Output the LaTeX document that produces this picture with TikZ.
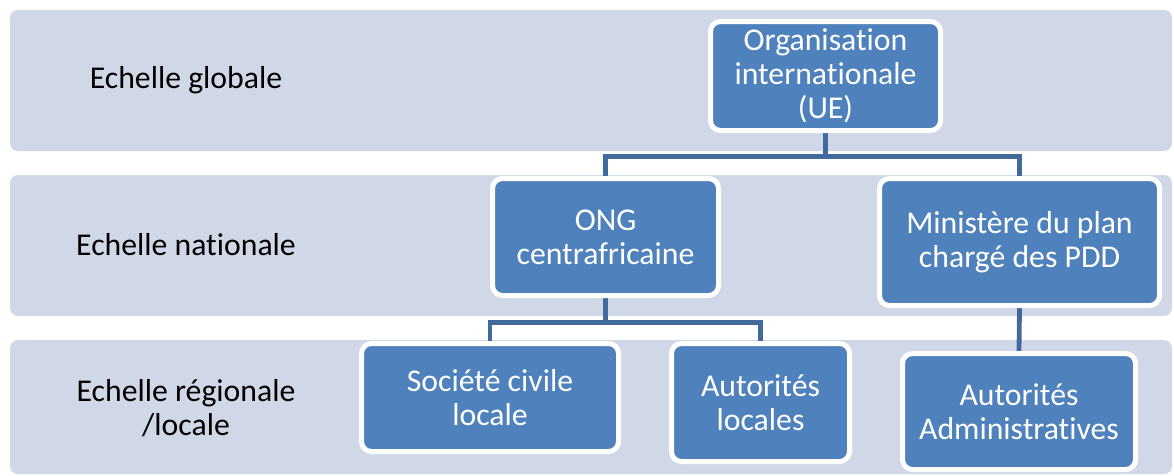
\documentclass[tikz,border=0pt]{standalone}
\usepackage{fontspec}
\setmainfont[Ligatures=NoCommon]{Carlito}
\definecolor{bandfill}{HTML}{D0D8E8}
\definecolor{boxblue}{HTML}{4F81BD}
\definecolor{wirecol}{HTML}{41699B}
\pgfdeclarelayer{bandlayer}
\pgfdeclarelayer{wirelayer}
\pgfsetlayers{bandlayer,wirelayer,main}
\begin{document}
\begin{tikzpicture}[x=0.75pt,y=-0.75pt,
  bandbox/.style={fill=bandfill, rounded corners=6pt},
  unit/.style={draw=white, line width=3.75pt, fill=boxblue, rounded corners=7.5pt,
    text=white, align=center, inner sep=0pt,
    font=\fontsize{23.8pt}{25.5pt}\selectfont},
  scaletext/.style={text=black, align=center, inner sep=0pt,
    font=\fontsize{23.8pt}{26pt}\selectfont},
  wire/.style={draw=wirecol, line width=3.6pt}]
\useasboundingbox (0,0) rectangle (1174,475);

% level bands
\begin{pgfonlayer}{bandlayer}
\fill[bandbox] (10,10) rectangle (1172,151);
\fill[bandbox] (10,175) rectangle (1172,316);
\fill[bandbox] (10,340) rectangle (1172,474);
\end{pgfonlayer}

% level labels
\node[scaletext] (lglob) at (186,80) {Echelle globale};
\node[scaletext] (lnat) at (186,245) {Echelle nationale};
\node[scaletext] (lreg) at (186,408) {Echelle régionale\\/locale};

% units
\node[unit, minimum width=172.5pt, minimum height=81.75pt] (org) at (825.5,76)
  {Organisation\\internationale\\(UE)};
\node[unit, minimum width=169.5pt, minimum height=87.75pt] (ong) at (605.5,237)
  {ONG\\centrafricaine};
\node[unit, minimum width=210pt, minimum height=95.25pt] (min) at (1019.5,242)
  {Ministère du plan\\chargé des PDD};
\node[unit, minimum width=192.75pt, minimum height=81pt] (soc) at (490,397.5)
  {Société civile\\locale};
\node[unit, minimum width=133.5pt, minimum height=88.5pt] (aloc) at (760.5,402.5)
  {Autorités\\locales};
\node[unit, minimum width=174.75pt, minimum height=87pt] (adm) at (1019,411.5)
  {Autorités\\Administratives};

% connectors
\begin{pgfonlayer}{wirelayer}
\path (org.south) ++(0,23.5) coordinate (j1);
\draw[wire] (org.south) -- (j1) -| (ong.north);
\draw[wire] (j1) -| (min.north);
\path (ong.south) ++(0,24.5) coordinate (j2);
\draw[wire] (ong.south) -- (j2) -| (soc.north);
\draw[wire] (j2) -| (aloc.north);
\draw[wire] (min.south) -- (adm.north);
\end{pgfonlayer}
\end{tikzpicture}
\end{document}
